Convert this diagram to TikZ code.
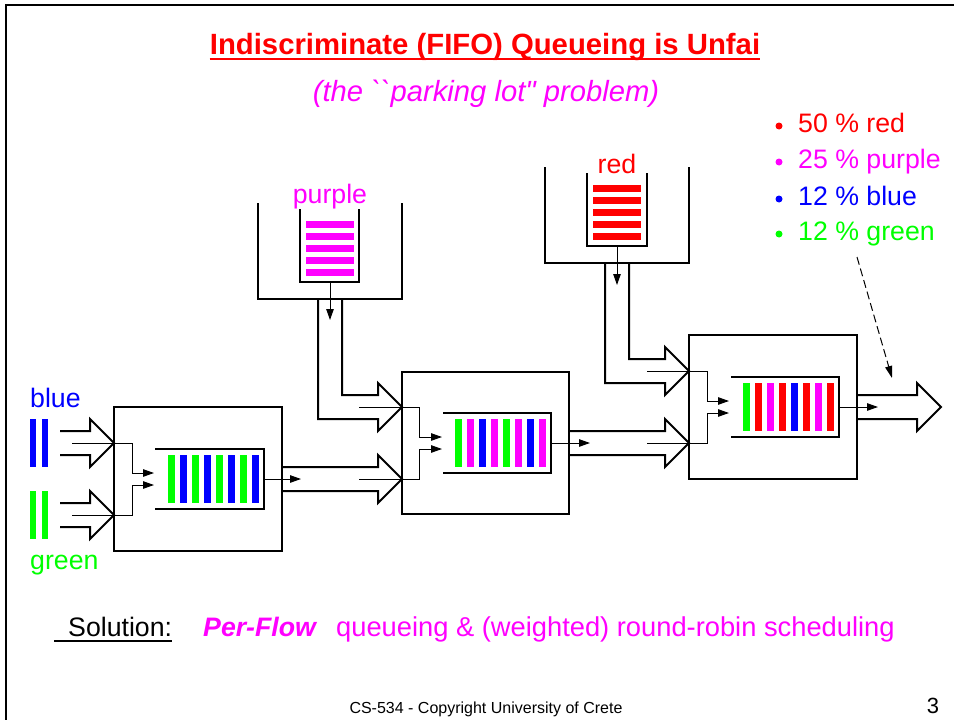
\documentclass[tikz,border=0pt]{standalone}
\usepackage{fontspec}
\setmainfont{Liberation Sans}
\usetikzlibrary{arrows.meta,calc}
\definecolor{cred}{RGB}{255,0,0}
\definecolor{cmag}{RGB}{255,0,255}
\definecolor{cblue}{RGB}{0,0,255}
\definecolor{cgreen}{RGB}{0,255,0}
\begin{document}
\begin{tikzpicture}[x=1pt,y=-1pt,
  swbox/.style={draw,line width=2pt,rectangle,inner sep=0pt,outer sep=0pt},
  pipe/.style={line width=2pt,line join=miter},
  qline/.style={line width=2pt},
  wire/.style={line width=1pt},
  feed/.style={wire,-{Triangle[length=11pt,width=7.5pt]}},
  body/.style={inner sep=0pt,font=\fontsize{26.7}{32}\selectfont},
  lbl/.style={body,anchor=base west}
]
\useasboundingbox (0,0) rectangle (954,720);

% slide frame
\draw[line width=2.5pt] (6,720) -- (6,5) -- (954,5);

% headings
\node[body,anchor=base,text=cred,font=\fontsize{29.3}{34}\selectfont\bfseries] (title) at (485,54)
  {Indiscriminate (FIFO) Queueing is Unfai};
\draw[cred,line width=2pt] ([yshift=-5pt]title.base west) -- ([yshift=-5pt]title.base east);
\node[body,anchor=base,text=cmag,font=\fontsize{29.2}{34}\selectfont\itshape] (sub) at (486,101)
  {(the \textasciigrave\textasciigrave parking lot\textquotedbl{} problem)};

% share list
\foreach \txt/\col/\yy [count=\k] in {50 \% red/cred/132, 25 \% purple/cmag/168, 12 \% blue/cblue/205, 12 \% green/cgreen/240}{
  \fill[\col] (779,\yy-6) circle (3.5);
  \node[lbl,text=\col] (share\k) at (798,\yy) {\txt};
}

% switches
\node[swbox,minimum width=168pt,minimum height=144pt] (sw1) at (198,479) {};
\node[swbox,minimum width=167pt,minimum height=142pt] (sw2) at (485.5,443) {};
\node[swbox,minimum width=168pt,minimum height=144pt] (sw3) at (773,407) {};

% FIFO queues inside the switches
\draw[qline] (155,449) -- (264,449) -- (264,509) -- (155,509);
\draw[qline] (443,413) -- (551,413) -- (551,473) -- (443,473);
\draw[qline] (731,377) -- (839,377) -- (839,437) -- (731,437);
\foreach \c [count=\i from 0] in {cgreen,cblue,cgreen,cblue,cgreen,cblue,cgreen,cblue}
  \fill[\c] ({168+12*\i},455) rectangle ++(6.5,48);
\foreach \c [count=\i from 0] in {cgreen,cmag,cblue,cmag,cgreen,cmag,cblue,cmag}
  \fill[\c] ({455+12*\i},419) rectangle ++(6.5,48);
\foreach \c [count=\i from 0] in {cgreen,cred,cmag,cred,cblue,cred,cmag,cred}
  \fill[\c] ({743+12*\i},383) rectangle ++(6.5,48);

% source stations
\draw[pipe] (258,203) -- (258,299) -- (402,299) -- (402,203);
\draw[qline] (300,209) -- (300,282) -- (359,282) -- (359,209);
\foreach \yy in {224,236,248,260,272}
  \fill[cmag] (306,\yy-3.5) rectangle (354,\yy+3.5);
\node[body,anchor=base,text=cmag] (lpurple) at (330,203) {purple};

\draw[pipe] (545,167) -- (545,263) -- (689,263) -- (689,167);
\draw[qline] (587,173) -- (587,246) -- (647,246) -- (647,173);
\foreach \yy in {188,200,212,224,236}
  \fill[cred] (593,\yy-3.5) rectangle (641,\yy+3.5);
\node[body,anchor=base,text=cred] (lred) at (617,173) {red};

% end-host flows
\fill[cblue] (30,419) rectangle (36,467);
\fill[cblue] (42,419) rectangle (48,467);
\fill[cgreen] (30,491) rectangle (36,539);
\fill[cgreen] (42,491) rectangle (48,539);
\node[lbl,text=cblue] (lblue) at (30,407) {blue};
\node[lbl,text=cgreen] (lgreen) at (30,569) {green};

% block-arrow links
\draw[pipe] (60,431) -- (90,431) -- (90,419) -- (114,443) -- (90,467) -- (90,455) -- (60,455);
\draw[pipe] (60,503) -- (90,503) -- (90,491) -- (114,515) -- (90,539) -- (90,527) -- (60,527);
\draw[pipe] (sw1.east |- 0,467) -- (378,467) -- (378,455) -- (402,479) -- (378,503) -- (378,491) -- (sw1.east |- 0,491);
\draw[pipe] (318,299) -- (318,419) -- (378,419) -- (378,431) -- (402,407) -- (378,383) -- (378,395) -- (342,395) -- (342,299);
\draw[pipe] (sw2.east |- 0,431) -- (665,431) -- (665,419) -- (689,443) -- (665,467) -- (665,455) -- (sw2.east |- 0,455);
\draw[pipe] (605,263) -- (605,383) -- (665,383) -- (665,395) -- (689,371) -- (665,347) -- (665,359) -- (629,359) -- (629,263);
\draw[pipe] (sw3.east |- 0,395) -- (917,395) -- (917,383) -- (941,407) -- (917,431) -- (917,419) -- (sw3.east |- 0,419);

% packet paths
\draw[feed] (72,443) -- (132,443) -- (132,473) -- (154,473);
\draw[feed] (72,515) -- (132,515) -- (132,485) -- (154,485);
\draw[feed] (264,479) -- (301,479);
\draw[feed] (359,407) -- (419,407) -- (419,437) -- (442,437);
\draw[feed] (359,479) -- (419,479) -- (419,449) -- (442,449);
\draw[feed] (551,443) -- (590,443);
\draw[feed] (647,371) -- (707,371) -- (707,401) -- (729,401);
\draw[feed] (647,443) -- (707,443) -- (707,413) -- (729,413);
\draw[feed] (839,407) -- (878,407);
\draw[feed] (330,282) -- (330,320);
\draw[feed] (617,246) -- (617,285);

% pointer from the share list to the output link
\coordinate (ptrA) at (857,257);
\coordinate (ptrB) at (892,378);
\draw[wire,dash pattern=on 8pt off 4pt,-{Triangle[length=12pt,width=7pt]}] (ptrA) -- (ptrB);

% solution line
\node[lbl] (sol) at (68,636) {Solution:};
\draw[line width=1.2pt] ([xshift=-14pt,yshift=-5pt]sol.base west) -- ([yshift=-5pt]sol.base east);
\node[lbl,text=cmag,font=\fontsize{26.7}{32}\selectfont\bfseries\itshape] (perflow) at (203,636) {Per-Flow};
\node[lbl,text=cmag,font=\fontsize{27.3}{32}\selectfont] (rr) at (336,636) {queueing \& (weighted) round-robin scheduling};

% footer
\node[body,anchor=base,font=\fontsize{16}{19}\selectfont] (foot) at (486,713) {CS-534 - Copyright University of Crete};
\node[body,anchor=base,font=\fontsize{22}{26}\selectfont] (pnum) at (933,713) {3};
\end{tikzpicture}
\end{document}
